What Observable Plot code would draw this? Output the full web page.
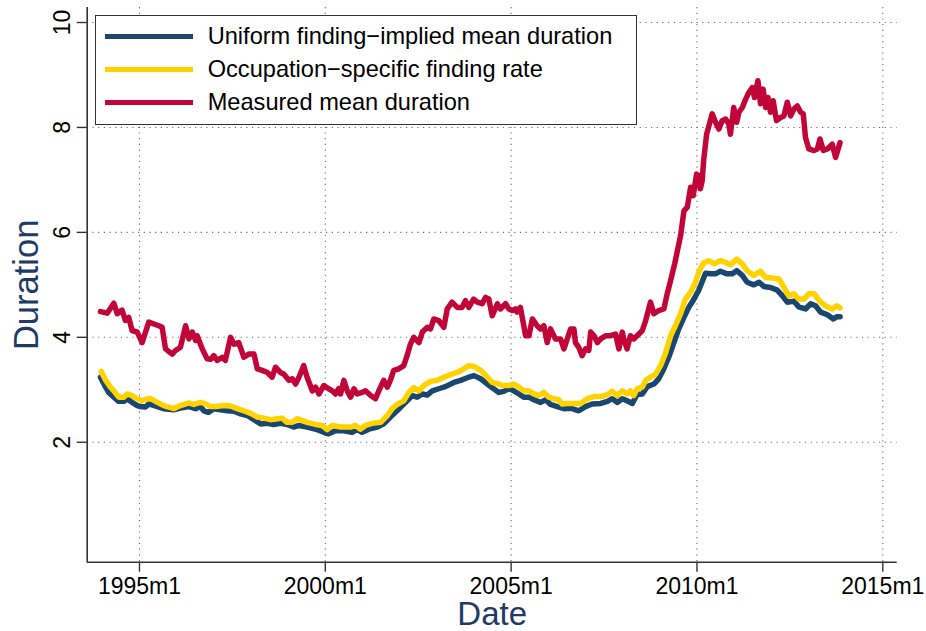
<!DOCTYPE html>
<html><head><meta charset="utf-8">
<script src="https://cdn.jsdelivr.net/npm/d3@7"></script>
<script src="https://cdn.jsdelivr.net/npm/@observablehq/plot@0.6"></script>
<style>
body{margin:0;background:#fff;font-family:"Liberation Sans",Arial,Helvetica,sans-serif}
#wrap{position:relative;width:926px;height:631px;overflow:hidden}
#legend{position:absolute;left:95px;top:15px;width:542px;height:110px;border:1.3px solid #333;background:#fff;box-sizing:border-box}
.row{position:absolute;left:0;height:30px;display:flex;align-items:center}
.sw{width:88px;height:5.5px;margin-left:8.7px;margin-right:15px}
.lab{font-size:23.6px;color:#000;white-space:nowrap;line-height:1.15}
</style></head>
<body>
<div id="wrap"></div>
<script>
// ---- data (decimal year, duration) ----
const seriesNames = ["Uniform finding\u2212implied mean duration", "Occupation\u2212specific finding rate", "Measured mean duration"];
const seriesColors = ["#1a476f", "#ffd200", "#c20538"];
const xTicks = [1995, 2000, 2005, 2010, 2015];
const yTicks = [2, 4, 6, 8, 10];
const xTitle = "Date";
const yTitle = "Duration";

const navyT = [1993.95,1994.09,1994.17,1994.31,1994.44,1994.58,1994.67,1994.80,1994.94,1995.03,
1995.16,1995.25,1995.48,1995.65,1995.92,1996.10,1996.33,1996.51,1996.64,1996.73,
1996.86,1997.00,1997.18,1997.36,1997.54,1997.72,1997.90,1998.08,1998.26,1998.44,
1998.61,1998.79,1998.97,1999.15,1999.29,1999.51,1999.78,1999.96,2000.09,2000.27,
2000.50,2000.72,2000.86,2000.99,2001.17,2001.40,2001.57,2001.75,2001.93,2002.07,
2002.20,2002.34,2002.47,2002.61,2002.74,2002.88,2003.05,2003.23,2003.46,2003.64,
2003.82,2004.00,2004.18,2004.36,2004.49,2004.67,2004.80,2004.94,2005.07,2005.21,
2005.34,2005.48,2005.61,2005.79,2005.93,2006.06,2006.24,2006.42,2006.60,2006.82,
2007.00,2007.18,2007.41,2007.59,2007.72,2007.86,2007.99,2008.12,2008.26,2008.39,
2008.53,2008.66,2008.84,2008.97,2009.11,2009.24,2009.38,2009.51,2009.65,2009.78,
2009.92,2010.05,2010.15,2010.23,2010.37,2010.50,2010.63,2010.81,2010.95,2011.07,
2011.22,2011.35,2011.53,2011.67,2011.80,2011.98,2012.16,2012.30,2012.43,2012.61,
2012.74,2012.92,2013.06,2013.19,2013.33,2013.51,2013.67,2013.76,2013.85];
const navyV = [3.24,3.05,2.95,2.86,2.78,2.78,2.83,2.76,2.70,2.68,
2.67,2.73,2.68,2.64,2.62,2.65,2.68,2.64,2.68,2.60,
2.57,2.64,2.62,2.60,2.59,2.54,2.51,2.43,2.35,2.36,
2.34,2.36,2.34,2.29,2.32,2.29,2.24,2.19,2.16,2.22,
2.22,2.19,2.24,2.19,2.25,2.29,2.35,2.48,2.60,2.70,
2.79,2.89,2.86,2.92,2.90,2.98,3.02,3.06,3.14,3.18,
3.23,3.27,3.21,3.11,3.04,2.95,2.97,3.02,2.98,2.92,
2.86,2.86,2.81,2.76,2.81,2.72,2.68,2.64,2.65,2.60,
2.68,2.73,2.74,2.78,2.83,2.76,2.83,2.79,2.74,2.91,
2.92,3.06,3.11,3.21,3.40,3.62,3.90,4.16,4.38,4.57,
4.73,4.90,5.08,5.22,5.21,5.21,5.26,5.21,5.21,5.27,
5.18,5.05,5.00,5.05,4.97,4.95,4.90,4.79,4.67,4.69,
4.58,4.54,4.64,4.60,4.48,4.43,4.35,4.39,4.39];

const yelT = [1993.97,1994.09,1994.22,1994.31,1994.44,1994.58,1994.67,1994.80,1994.94,1995.07,
1995.21,1995.30,1995.48,1995.65,1995.92,1996.10,1996.33,1996.46,1996.64,1996.78,
1996.91,1997.05,1997.27,1997.45,1997.63,1997.81,1997.99,1998.17,1998.35,1998.53,
1998.71,1998.84,1998.97,1999.11,1999.24,1999.51,1999.74,1999.92,2000.05,2000.19,
2000.41,2000.68,2000.81,2000.95,2001.08,2001.26,2001.49,2001.67,2001.80,2001.93,
2002.11,2002.25,2002.38,2002.52,2002.65,2002.83,2003.01,2003.19,2003.37,2003.55,
2003.73,2003.86,2003.99,2004.18,2004.36,2004.49,2004.67,2004.76,2004.94,2005.07,
2005.21,2005.34,2005.48,2005.61,2005.75,2005.88,2006.01,2006.15,2006.28,2006.37,
2006.51,2006.69,2006.87,2007.05,2007.23,2007.41,2007.59,2007.72,2007.86,2007.99,
2008.12,2008.21,2008.30,2008.39,2008.53,2008.62,2008.75,2008.89,2009.02,2009.16,
2009.29,2009.42,2009.56,2009.69,2009.83,2009.96,2010.07,2010.18,2010.32,2010.46,
2010.63,2010.77,2010.90,2011.07,2011.22,2011.35,2011.53,2011.71,2011.85,2012.03,
2012.21,2012.34,2012.47,2012.61,2012.74,2012.88,2013.01,2013.15,2013.33,2013.51,
2013.64,2013.76,2013.85];
const yelV = [3.35,3.18,3.05,2.98,2.86,2.86,2.92,2.89,2.83,2.79,
2.83,2.83,2.76,2.70,2.64,2.70,2.75,2.72,2.76,2.73,
2.68,2.68,2.70,2.69,2.64,2.60,2.55,2.48,2.46,2.43,
2.45,2.46,2.38,2.38,2.45,2.38,2.34,2.32,2.24,2.32,
2.29,2.29,2.32,2.25,2.32,2.36,2.38,2.51,2.64,2.72,
2.79,2.95,3.04,2.98,3.08,3.16,3.18,3.24,3.29,3.33,
3.40,3.46,3.45,3.37,3.24,3.14,3.11,3.08,3.08,3.11,
3.05,2.98,2.98,2.92,2.89,2.95,2.86,2.83,2.81,2.73,
2.74,2.74,2.74,2.83,2.87,2.87,2.91,2.97,2.89,2.98,
2.92,2.98,2.89,3.02,3.05,3.18,3.24,3.30,3.46,3.71,
4.03,4.22,4.45,4.73,4.86,5.05,5.28,5.42,5.46,5.40,
5.46,5.43,5.38,5.49,5.40,5.27,5.18,5.26,5.14,5.13,
5.11,4.95,4.79,4.83,4.73,4.73,4.83,4.83,4.67,4.58,
4.54,4.60,4.56];

const redT = [1993.95,1994.13,1994.31,1994.40,1994.53,1994.62,1994.71,1994.80,1994.94,1995.07,
1995.25,1995.52,1995.61,1995.70,1995.88,1995.97,1996.10,1996.24,1996.33,1996.42,
1996.51,1996.55,1996.69,1996.82,1996.91,1997.00,1997.09,1997.23,1997.31,1997.45,
1997.54,1997.67,1997.81,1997.94,1998.08,1998.17,1998.30,1998.44,1998.57,1998.66,
1998.79,1998.88,1999.02,1999.11,1999.20,1999.29,1999.42,1999.51,1999.65,1999.74,
1999.83,1999.96,2000.09,2000.19,2000.27,2000.36,2000.41,2000.50,2000.59,2000.68,
2000.77,2000.86,2000.99,2001.08,2001.22,2001.35,2001.44,2001.57,2001.67,2001.75,
2001.84,2001.98,2002.11,2002.20,2002.29,2002.38,2002.52,2002.61,2002.74,2002.83,
2002.92,2003.05,2003.19,2003.28,2003.41,2003.55,2003.68,2003.77,2003.86,2003.99,
2004.09,2004.22,2004.31,2004.40,2004.49,2004.63,2004.71,2004.85,2004.94,2005.03,
2005.12,2005.16,2005.25,2005.39,2005.48,2005.57,2005.70,2005.79,2005.88,2005.97,
2006.06,2006.19,2006.33,2006.42,2006.51,2006.60,2006.69,2006.73,2006.82,2006.91,
2007.00,2007.09,2007.14,2007.23,2007.32,2007.41,2007.54,2007.67,2007.81,2007.90,
2007.99,2008.03,2008.12,2008.21,2008.30,2008.39,2008.53,2008.62,2008.75,2008.84,
2008.97,2009.11,2009.20,2009.29,2009.40,2009.56,2009.65,2009.74,2009.83,2009.90,
2009.99,2010.05,2010.09,2010.14,2010.18,2010.26,2010.36,2010.41,2010.50,2010.59,
2010.68,2010.77,2010.86,2010.90,2010.99,2011.07,2011.13,2011.22,2011.31,2011.40,
2011.49,2011.55,2011.64,2011.71,2011.78,2011.85,2011.91,2011.98,2012.05,2012.14,
2012.25,2012.34,2012.43,2012.52,2012.61,2012.70,2012.79,2012.86,2012.92,2013.01,
2013.15,2013.24,2013.31,2013.40,2013.51,2013.64,2013.73,2013.85];
const redV = [4.49,4.46,4.65,4.45,4.52,4.32,4.38,4.13,4.10,3.90,
4.29,4.22,4.19,3.78,3.68,3.75,3.81,4.22,3.97,4.10,
3.94,4.03,3.78,3.59,3.58,3.65,3.56,3.62,3.56,4.00,
3.87,3.90,3.62,3.68,3.68,3.40,3.37,3.33,3.24,3.43,
3.33,3.30,3.18,3.21,3.11,3.24,3.46,3.24,2.98,3.05,
2.92,3.08,3.02,2.98,2.92,3.02,2.92,3.18,2.98,2.86,
3.02,2.92,2.95,2.98,2.89,2.83,2.98,3.18,3.05,3.18,
3.37,3.40,3.46,3.65,3.87,4.00,3.90,4.10,4.19,4.16,
4.35,4.32,4.19,4.54,4.67,4.57,4.57,4.70,4.57,4.73,
4.67,4.64,4.76,4.73,4.41,4.64,4.54,4.64,4.54,4.51,
4.54,4.48,4.57,4.03,4.03,4.35,4.22,4.16,4.22,3.90,
4.16,3.97,3.97,3.78,3.97,4.16,4.16,3.90,3.81,3.65,
3.78,3.75,4.10,4.03,3.90,3.97,4.03,4.03,4.06,3.78,
4.10,3.97,3.78,4.03,3.97,4.03,4.13,4.32,4.67,4.45,
4.51,4.54,4.83,5.08,5.40,5.94,6.41,6.48,6.86,6.70,
7.11,7.08,6.83,6.98,7.37,7.87,8.13,8.26,8.10,7.97,
8.13,8.16,8.06,7.87,8.38,8.10,8.29,8.38,8.54,8.67,
8.76,8.57,8.89,8.45,8.73,8.38,8.57,8.29,8.51,8.13,
8.19,8.22,8.48,8.22,8.35,8.41,8.29,8.26,7.81,7.59,
7.56,7.59,7.78,7.56,7.59,7.68,7.43,7.71];

const xDomain = [1993.593, 2015.388];
const yDomain = [-0.286, 10.286];

const zip = (T, V) => T.map((t, i) => ({t, v: V[i]}));
const navy = zip(navyT, navyV), yel = zip(yelT, yelV), red = zip(redT, redV);

const font = '"Liberation Sans", Arial, Helvetica, sans-serif';
const titleColor = "#1f3a66";
const axisColor = "#333";
const gridStyle = {stroke: "#6e6e6e", strokeOpacity: 1, strokeWidth: 1.1, strokeDasharray: "1.2,4.5"};

const chart = Plot.plot({
  width: 926, height: 631,
  marginLeft: 86.7, marginRight: 29.3, marginTop: 7, marginBottom: 69.3,
  style: {fontFamily: font, background: "white", overflow: "visible"},
  x: {type: "linear", domain: xDomain},
  y: {type: "linear", domain: yDomain},
  marks: [
    Plot.gridX(xTicks, gridStyle),
    Plot.gridY(yTicks, gridStyle),
    Plot.line(navy, {x: "t", y: "v", stroke: seriesColors[0], strokeWidth: 5.5}),
    Plot.line(yel, {x: "t", y: "v", stroke: seriesColors[1], strokeWidth: 5.5}),
    Plot.line(red, {x: "t", y: "v", stroke: seriesColors[2], strokeWidth: 5.5}),
    Plot.ruleX([xDomain[0]], {stroke: axisColor, strokeWidth: 1.6}),
    Plot.ruleY([yDomain[0]], {stroke: axisColor, strokeWidth: 1.6}),
    Plot.axisX(xTicks, {tickSize: 10, tickPadding: 5, tickFormat: d => `${d}m1`, fontSize: 23, stroke: axisColor, strokeWidth: 1.4, fill: "#000", label: null}),
    Plot.axisY(yTicks, {tickSize: 10, tickPadding: 7, tickRotate: -90, tickFormat: d => String(d), fontSize: 23, stroke: axisColor, strokeWidth: 1.4, fill: "#000", label: null}),
    Plot.axisX({ticks: [], label: xTitle, labelAnchor: "center", labelArrow: "none", labelOffset: 63, fontSize: 33, fill: titleColor}),
    Plot.axisY({ticks: [], label: yTitle, labelAnchor: "center", labelArrow: "none", labelOffset: 73.5, fontSize: 34.5, fill: titleColor, dy: -6})
  ]
});

const wrap = document.getElementById("wrap");
wrap.appendChild(chart);

// legend overlay
const legend = document.createElement("div");
legend.id = "legend";
const rowTops = [5.4, 38.7, 71.4];
seriesNames.forEach((name, i) => {
  const row = document.createElement("div");
  row.className = "row";
  row.style.top = rowTops[i] + "px";
  const sw = document.createElement("div");
  sw.className = "sw";
  sw.style.background = seriesColors[i];
  const lab = document.createElement("span");
  lab.className = "lab";
  lab.textContent = name;
  row.appendChild(sw); row.appendChild(lab);
  legend.appendChild(row);
});
wrap.appendChild(legend);
</script>
</body></html>
